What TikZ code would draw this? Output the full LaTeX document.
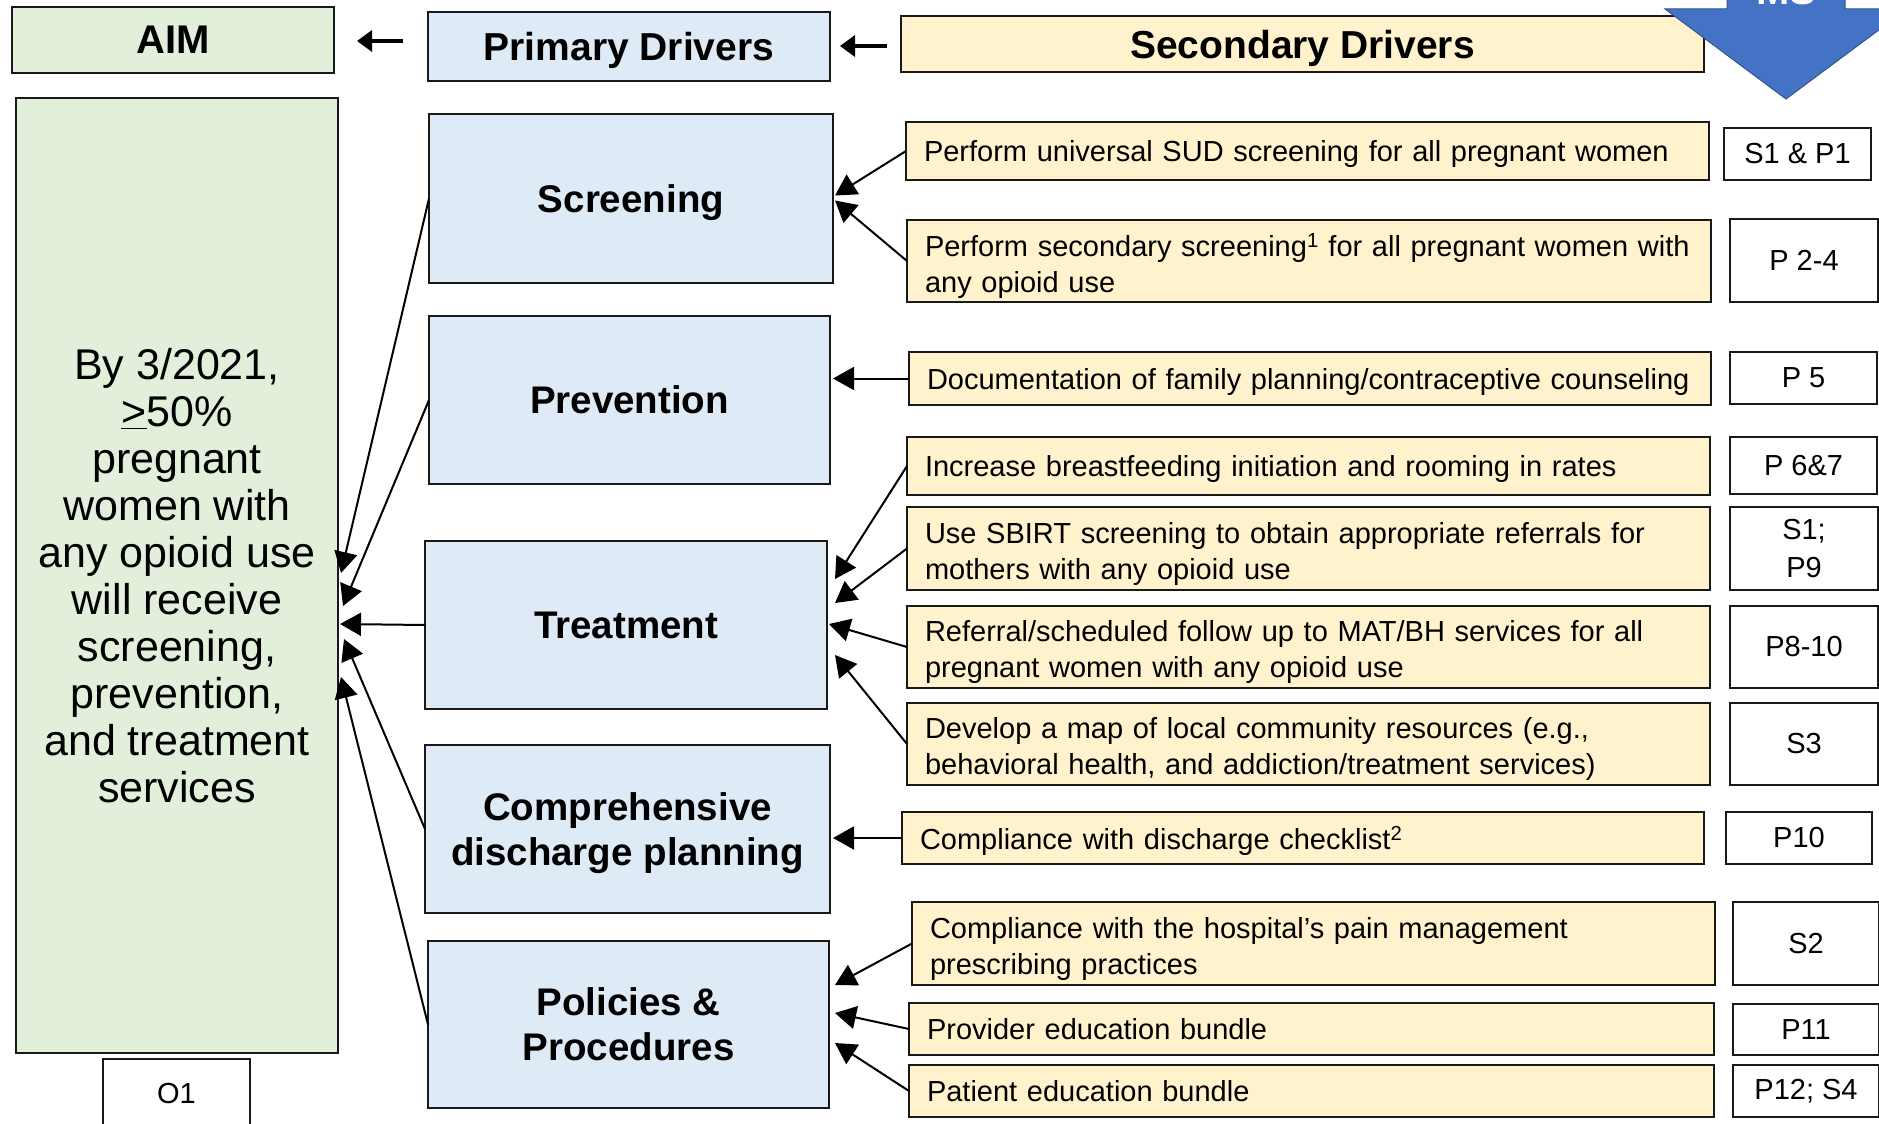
\documentclass[tikz,border=0pt]{standalone}
\usepackage{fontspec}
\setmainfont{Liberation Sans}
\usetikzlibrary{arrows.meta,calc}
\definecolor{aimgreen}{RGB}{226,239,218}
\definecolor{priblue}{RGB}{222,234,246}
\definecolor{secyellow}{RGB}{255,242,204}
\definecolor{msblue}{RGB}{68,114,196}
\definecolor{edgecol}{RGB}{25,25,25}
\begin{document}
\begin{tikzpicture}[x=1pt,y=-1pt,
  box/.style={draw=edgecol, line width=1.8pt, inner sep=0pt, outer sep=0pt},
  aimbox/.style={box, fill=aimgreen},
  hdrtext/.style={font=\fontsize{39}{45}\selectfont\bfseries, text depth=0pt},
  pribox/.style={box, fill=priblue, align=center, font=\fontsize{38.5}{45}\selectfont\bfseries},
  prione/.style={pribox, text depth=0pt},
  secbox/.style={box, fill=secyellow, align=left, font=\fontsize{29}{36}\selectfont},
  secone/.style={secbox, text depth=0pt},
  sectwo/.style={secbox, text depth=32pt},
  msbox/.style={box, fill=white, align=center, font=\fontsize{29}{38}\selectfont},
  conn/.style={line width=2pt, draw=black, -{Triangle[length=21pt,width=23pt]}},
  hdrarrow/.style={line width=3.5pt, -{Triangle[length=15pt,width=21pt]}}
]
\useasboundingbox (0,0) rectangle (1879,1124);
\clip (0,0) rectangle (1879,1124);
\fill[white] (0,0) rectangle (1879,1124);

% headers
\node[aimbox, hdrtext, font=\fontsize{40}{45}\selectfont\bfseries, minimum width=322pt, minimum height=66pt] (aimh) at (173,40) {AIM};
\node[box, fill=priblue, hdrtext, minimum width=402pt, minimum height=69pt] (prih) at (629,46.5) {Primary Drivers};
\node[box, fill=secyellow, hdrtext, minimum width=803pt, minimum height=56pt] (sech) at (1302.5,44) {Secondary Drivers};

% MS arrow
\filldraw[fill=msblue, draw=msblue!75!black, line width=1pt] (1727,-30) -- (1727,9) -- (1665,9) -- (1786,99) -- (1907,9) -- (1845,9) -- (1845,-30) -- cycle;
\node[anchor=base, text=white, font=\fontsize{40}{45}\selectfont\bfseries] (mstxt) at (1786,5) {MS};

% header arrows
\coordinate (ha1t) at (357,41); \coordinate (ha1s) at (403,41);
\coordinate (ha2t) at (840,46); \coordinate (ha2s) at (887,46);
\draw[hdrarrow] (ha1s) -- (ha1t);
\draw[hdrarrow] (ha2s) -- (ha2t);

% aim
\node[aimbox, align=center, font=\fontsize{43}{47}\selectfont, minimum width=322pt, minimum height=955pt] (aim) at (177,575.5)
 {By 3/2021,\\ \underline{>}50\%\\ pregnant\\ women with\\ any opioid use\\ will receive\\ screening,\\ prevention,\\ and treatment\\ services};
\node[msbox, minimum width=147pt, minimum height=70pt] (o1) at (176.5,1094) {O1};

% primary drivers
\node[prione, minimum width=404pt, minimum height=169pt] (scr) at (631,198.5) {Screening};
\node[prione, minimum width=401pt, minimum height=168pt] (prev) at (629.5,400) {Prevention};
\node[prione, minimum width=402pt, minimum height=168pt] (tre) at (626,625) {Treatment};
\node[pribox, text depth=-2pt, minimum width=405pt, minimum height=168pt] (cdp) at (627.5,829) {Comprehensive\\discharge planning};
\node[pribox, text depth=-4pt, minimum width=401pt, minimum height=167pt] (pp) at (628.5,1024.5) {Policies \&\\Procedures};

% secondary drivers
\node[secone, minimum width=803pt, minimum height=58pt, text width=767pt] (s1) at (1307.5,151) {Perform universal SUD screening for all pregnant women};
\node[sectwo, minimum width=804pt, minimum height=82pt, text width=768pt] (s2) at (1309,261) {Perform secondary screening\textsuperscript{1} for all pregnant women with\\any opioid use};
\node[secone, minimum width=802pt, minimum height=53pt, text width=766pt] (s3) at (1310,378.5) {Documentation of family planning/contraceptive counseling};
\node[secone, minimum width=803pt, minimum height=58pt, text width=767pt] (s4) at (1308.5,466) {Increase breastfeeding initiation and rooming in rates};
\node[sectwo, minimum width=803pt, minimum height=83pt, text width=767pt] (s5) at (1308.5,548.5) {Use SBIRT screening to obtain appropriate referrals for\\mothers with any opioid use};
\node[sectwo, minimum width=803pt, minimum height=82pt, text width=767pt] (s6) at (1308.5,647) {Referral/scheduled follow up to MAT/BH services for all\\pregnant women with any opioid use};
\node[sectwo, minimum width=803pt, minimum height=82pt, text width=767pt] (s7) at (1308.5,744) {Develop a map of local community resources (e.g.,\\behavioral health, and addiction/treatment services)};
\node[secone, minimum width=802pt, minimum height=52pt, text width=766pt] (s8) at (1303,838) {Compliance with discharge checklist\textsuperscript{2}};
\node[sectwo, minimum width=803pt, minimum height=83pt, text width=767pt] (s9) at (1313.5,943.5) {Compliance with the hospital’s pain management\\prescribing practices};
\node[secone, minimum width=805pt, minimum height=52pt, text width=769pt] (s10) at (1311.5,1029) {Provider education bundle};
\node[secone, minimum width=805pt, minimum height=52pt, text width=769pt] (s11) at (1311.5,1091) {Patient education bundle};

% measures
\node[msbox, minimum width=147pt, minimum height=52pt] (m1) at (1797.5,154) {S1 \& P1};
\node[msbox, minimum width=148pt, minimum height=83pt] (m2) at (1804,260.5) {P 2-4};
\node[msbox, minimum width=147pt, minimum height=52pt] (m3) at (1803.5,378) {P 5};
\node[msbox, minimum width=147pt, minimum height=57pt] (m4) at (1803.5,465.5) {P 6\&7};
\node[msbox, minimum width=148pt, minimum height=83pt] (m5) at (1804,548.5) {S1;\\P9};
\node[msbox, minimum width=148pt, minimum height=82pt] (m6) at (1804,647) {P8-10};
\node[msbox, minimum width=148pt, minimum height=82pt] (m7) at (1804,744) {S3};
\node[msbox, minimum width=146pt, minimum height=52pt] (m8) at (1799,838) {P10};
\node[msbox, minimum width=146pt, minimum height=83pt] (m9) at (1806,943.5) {S2};
\node[msbox, minimum width=146pt, minimum height=51pt] (m10) at (1806,1029.5) {P11};
\node[msbox, minimum width=146pt, minimum height=52pt] (m11) at (1806,1091) {P12; S4};

% secondary -> primary
\draw[conn] (s1.west) -- ($(scr.east)+(2,-3)$);
\draw[conn] (s2.west) -- ($(scr.east)+(2,2)$);
\draw[conn] (s3.west) -- ($(prev.east)+(3,-21.5)$);
\draw[conn] (s4.west) -- ($(tre.east)+(8,-46)$);
\draw[conn] (s5.west) -- ($(tre.east)+(8,-22)$);
\draw[conn] (s6.west) -- ($(tre.east)+(2,-1)$);
\draw[conn] (s7.west) -- ($(tre.east)+(8,30)$);
\draw[conn] (s8.west) -- ($(cdp.east)+(3,9)$);
\draw[conn] (s9.west) -- ($(pp.east)+(6,-39.5)$);
\draw[conn] (s10.west) -- ($(pp.east)+(6,-11.5)$);
\draw[conn] (s11.west) -- ($(pp.east)+(6,18.5)$);

% primary -> aim
\draw[conn] (scr.west) -- ($(aim.east)+(3,-2.5)$);
\draw[conn] (prev.west) -- ($(aim.east)+(5,30.5)$);
\draw[conn] (tre.west) -- ($(aim.east)+(2,48.5)$);
\draw[conn] (cdp.west) -- ($(aim.east)+(6,63.5)$);
\draw[conn] (pp.west) -- ($(aim.east)+(3,101.5)$);
\end{tikzpicture}
\end{document}
